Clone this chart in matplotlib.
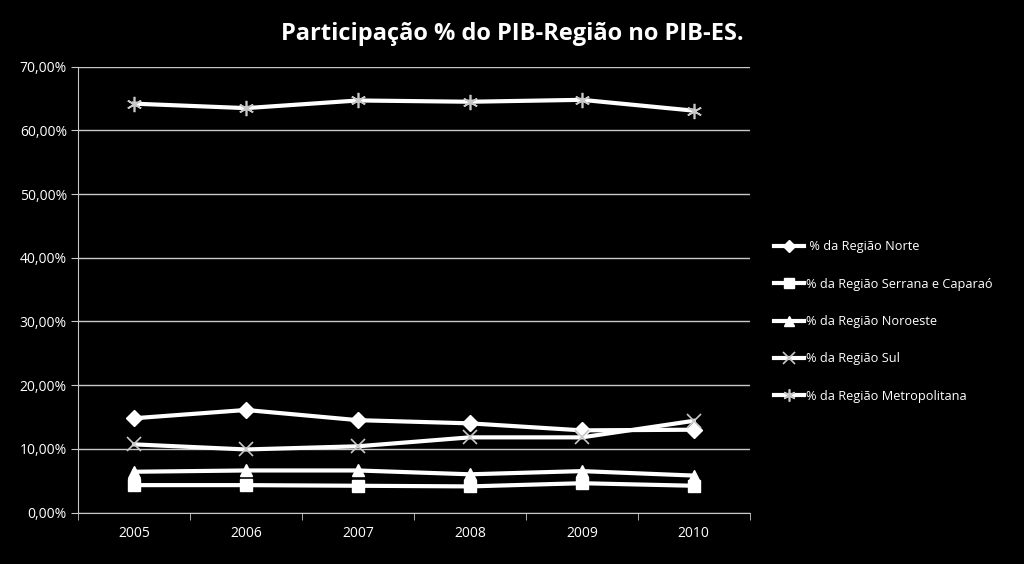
import matplotlib.pyplot as plt
from matplotlib.ticker import FuncFormatter, FixedLocator

# Years on the category axis
years = ["2005", "2006", "2007", "2008", "2009", "2010"]

# Share of each region in the state GDP (%)
norte = [14.8, 16.1, 14.5, 14.0, 12.9, 13.0]
serrana = [4.3, 4.3, 4.2, 4.1, 4.6, 4.2]
noroeste = [6.4, 6.6, 6.6, 6.0, 6.5, 5.8]
sul = [10.7, 9.9, 10.4, 11.8, 11.8, 14.4]
metropolitana = [64.2, 63.5, 64.7, 64.5, 64.8, 63.1]

labels = [" % da Região Norte",
          "% da Região Serrana e Caparaó",
          "% da Região Noroeste",
          "% da Região Sul",
          "% da Região Metropolitana"]

plt.rcParams['font.family'] = ['Open Sans', 'DejaVu Sans']

fig = plt.figure(figsize=(10.24, 5.64), dpi=100, facecolor='black')
ax = fig.add_axes([0.0762, 0.0913, 0.656, 0.7904], facecolor='black')

x = range(len(years))
grey = '#c8c8c8'
ax.plot(x, norte, color='white', lw=3, marker='D', ms=8, mfc='white', mec='white', label=labels[0])
ax.plot(x, serrana, color='white', lw=3, marker='s', ms=9, mfc='white', mec='white', label=labels[1])
ax.plot(x, noroeste, color='white', lw=3, marker='^', ms=9, mfc='white', mec='white', label=labels[2])
ax.plot(x, sul, color='white', lw=3, marker='x', ms=10, mew=1.2, mec=grey, label=labels[3])
ax.plot(x, metropolitana, color='white', lw=3, marker=(6, 2, 0), ms=11, mew=1.2, mec=grey, label=labels[4])

ax.set_xlim(-0.5, len(years) - 0.5)
ax.set_ylim(0, 70)
ax.set_yticks(range(0, 71, 10))
ax.yaxis.set_major_formatter(FuncFormatter(lambda v, p: f"{v:.2f}".replace('.', ',') + '%'))
ax.set_xticks(list(x))
ax.set_xticklabels(years)
ax.xaxis.set_minor_locator(FixedLocator([i - 0.5 for i in range(len(years) + 1)]))
ax.tick_params(axis='x', which='major', length=0, pad=10, colors='white', labelsize=10)
ax.tick_params(axis='x', which='minor', length=5, color=grey, direction='out')
ax.tick_params(axis='y', length=5, color=grey, colors='white', labelsize=10, pad=3)

ax.grid(axis='y', color=grey, lw=1)
ax.set_axisbelow(True)
for side in ['top', 'right']:
    ax.spines[side].set_visible(False)
for side in ['left', 'bottom']:
    ax.spines[side].set_color(grey)

fig.text(0.5, 0.94, "Participação % do PIB-Região no PIB-ES.", ha='center', va='center',
         color='white', fontsize=17, fontweight='bold')

leg = fig.legend(loc='center left', bbox_to_anchor=(0.745, 0.43), frameon=False,
                 labelcolor='white', fontsize=9.2, handlelength=2.3, handletextpad=0.15,
                 labelspacing=1.9, markerscale=0.8)

fig.savefig('out.png', facecolor='black')
